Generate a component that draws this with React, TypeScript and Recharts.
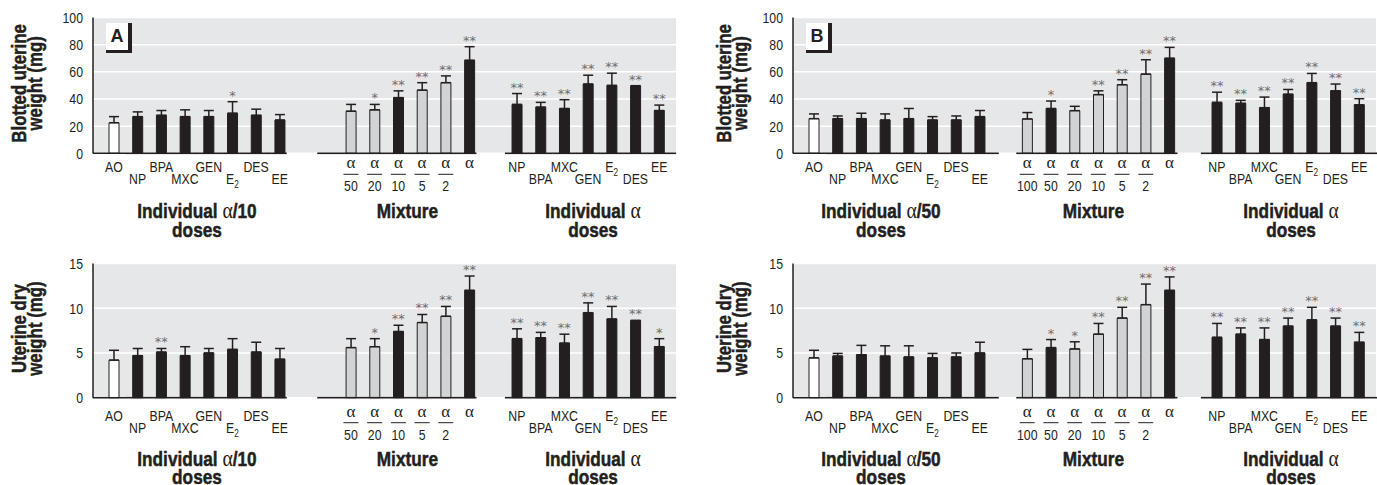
import React from 'react';
import { ComposedChart, Bar, XAxis, YAxis, CartesianGrid, ErrorBar, Cell, Line } from 'recharts';

const SANS = "'Liberation Sans', Arial, sans-serif";
const SERIF = "'Liberation Serif', 'DejaVu Serif', serif";
const INK = '#231f20';
const PLOT_BG = '#e6e7e8';
const FILLS: Record<string, string> = { w: '#ffffff', g: '#d1d3d4', b: '#231f20' };
const SQUEEZE = 0.82; // condensed look from Liberation Sans

// categories
const individualLabels = ['AO', 'NP', 'BPA', 'MXC', 'GEN', 'E2', 'DES', 'EE'];
const mixtureDenoms = ['100', '50', '20', '10', '5', '2', ''];
const alphaLabels = ['NP', 'BPA', 'MXC', 'GEN', 'E2', 'DES', 'EE'];

// bar fill codes (w = vehicle, g = grey, b = black)
const lowFill = ['w', 'b', 'b', 'b', 'b', 'b', 'b', 'b'];
const mixFillA = ['g', 'g', 'g', 'b', 'g', 'g', 'b'];
const mixFillB = ['g', 'b', 'g', 'g', 'g', 'g', 'b'];
const highFill = ['b', 'b', 'b', 'b', 'b', 'b', 'b'];

// A - blotted uterine weight (mg)
const aBlotLow = [22.5, 27, 28, 27, 27, 29.5, 28, 24.5];
const aBlotLowErr = [4.5, 3.5, 3.5, 5, 4.5, 8.5, 4.5, 4];
const aBlotLowSig = ['', '', '', '', '', '*', '', ''];
const aBlotMix = [null, 31, 32, 41, 46.5, 52, 68.5];
const aBlotMixErr = [0, 5, 4, 5, 5.5, 5, 10];
const aBlotMixSig = ['', '', '*', '**', '**', '**', '**'];
const aBlotHigh = [36, 34, 33, 51, 50, 49.5, 31.5];
const aBlotHighErr = [8, 3.5, 6.5, 6.5, 9, 0.3, 4];
const aBlotHighSig = ['**', '**', '**', '**', '**', '**', '**'];

// A - uterine dry weight (mg)
const aDryLow = [4.2, 4.7, 5.1, 4.7, 5.0, 5.4, 5.1, 4.3];
const aDryLowErr = [1.1, 0.8, 0.4, 1.0, 0.5, 1.2, 1.1, 1.2];
const aDryLowSig = ['', '', '**', '', '', '', '', ''];
const aDryMix = [null, 5.6, 5.7, 7.4, 8.4, 9.1, 12.0];
const aDryMixErr = [0, 1.0, 0.9, 0.7, 0.9, 1.1, 1.6];
const aDryMixSig = ['', '', '*', '**', '**', '**', '**'];
const aDryHigh = [6.6, 6.7, 6.1, 9.5, 8.8, 8.6, 5.7];
const aDryHighErr = [1.1, 0.6, 1.0, 1.1, 1.4, 0.05, 0.9];
const aDryHighSig = ['**', '**', '**', '**', '**', '**', '*'];

// B - blotted uterine weight (mg)
const bBlotLow = [25.5, 25.5, 25.5, 24.5, 25.5, 24.5, 24.5, 27];
const bBlotLowErr = [3.5, 2, 4, 4.5, 7.5, 2.5, 3, 4.5];
const bBlotLowSig = ['', '', '', '', '', '', '', ''];
const bBlotMix = [25.3, 33, 31.4, 43.2, 50.5, 58.3, 70];
const bBlotMixErr = [4.7, 5.5, 3.2, 2.8, 3.7, 10.6, 8];
const bBlotMixSig = ['', '*', '', '**', '**', '**', '**'];
const bBlotHigh = [37.5, 36.8, 33.6, 43.5, 52, 46, 35.7];
const bBlotHighErr = [7.5, 2.2, 7.8, 3.5, 6.8, 5, 4.5];
const bBlotHighSig = ['**', '**', '**', '**', '**', '**', '**'];

// B - uterine dry weight (mg)
const bDryLow = [4.45, 4.65, 4.8, 4.65, 4.55, 4.45, 4.55, 5.0];
const bDryLowErr = [0.85, 0.3, 1.05, 1.15, 1.25, 0.5, 0.45, 1.2];
const bDryLowSig = ['', '', '', '', '', '', '', ''];
const bDryMix = [4.35, 5.6, 5.45, 7.1, 8.9, 10.4, 12.0];
const bDryMixErr = [1.05, 0.9, 0.8, 1.2, 1.2, 2.3, 1.5];
const bDryMixSig = ['', '*', '*', '**', '**', '**', '**'];
const bDryHigh = [6.75, 7.1, 6.5, 8.0, 8.7, 8.0, 6.2];
const bDryHighErr = [1.55, 0.7, 1.3, 0.9, 1.4, 0.9, 1.1];
const bDryHighSig = ['**', '**', '**', '**', '**', '**', '**'];

const blotTicks = [0, 20, 40, 60, 80, 100];
const dryTicks = [0, 5, 10, 15];

type Row = {
  id: string;
  group: number;
  pos: number;
  size: number;
  label: string;
  value: number | null;
  err: number[] | null;
  top: number | null;
  fill: string;
  sig: string;
};

type Group = { labels: string[]; values: (number | null)[]; errs: number[]; sigs: string[]; fills: string[] };

function buildRows(groups: Group[]): Row[] {
  const rows: Row[] = [];
  groups.forEach((g, gi) => {
    if (gi > 0) {
      rows.push({ id: `gap${gi}`, group: -1, pos: 0, size: 0, label: '', value: null, err: null, top: null, fill: '', sig: '' });
    }
    g.labels.forEach((label, i) => {
      const v = g.values[i];
      const e = g.errs[i];
      rows.push({
        id: `g${gi}-${i}`,
        group: gi,
        pos: i,
        size: g.labels.length,
        label,
        value: v,
        err: v == null ? null : [0, e],
        top: v == null ? null : v + e,
        fill: FILLS[g.fills[i]],
        sig: g.sigs[i],
      });
    });
  });
  return rows;
}

type Cfg = {
  shift: number;
  titleDy: number;
  dosesDy: number;
  dose: string;
  ends: number[]; // [g0 left, g0 right, g1 left, g1 right, g2 left, g2 right]
  titleDx: number[];
};

// condensed text: Liberation Sans squeezed horizontally, heavier when bold
function NText(props: { x: number; y: number; size: number; bold?: boolean; anchor?: string; rotate?: boolean; children: React.ReactNode }) {
  const { x, y, size, bold, anchor = 'middle', rotate, children } = props;
  return (
    <text
      transform={`translate(${x},${y})${rotate ? ' rotate(-90)' : ''} scale(${SQUEEZE},1)`}
      textAnchor={anchor as any}
      fontFamily={SANS}
      fontSize={size}
      fontWeight={bold ? 'bold' : 'normal'}
      fill={INK}
      stroke={bold ? INK : 'none'}
      strokeWidth={bold ? 0.5 : 0}
    >
      {children}
    </text>
  );
}

function makeTick(rows: Row[], cfg: Cfg) {
  return (props: any) => {
    const { x, y, payload } = props;
    const row = rows.find((r) => r.id === payload.value);
    if (!row || row.group < 0) return <g />;
    let left = -12;
    let right = 12;
    if (row.pos === 0) left = cfg.ends[row.group * 2];
    if (row.pos === row.size - 1) right = cfg.ends[row.group * 2 + 1];
    const s = cfg.shift;
    const parts: React.ReactNode[] = [];
    parts.push(<line key="base" x1={x + left} x2={x + right} y1={y} y2={y} stroke={INK} strokeWidth={1.6} />);

    if (row.group === 1) {
      if (row.value != null) {
        parts.push(
          <text key="a" x={x} y={y + 15 + s} textAnchor="middle" fontFamily={SERIF} fontSize={17} fill={INK}>α</text>
        );
        if (row.label) {
          parts.push(<line key="fr" x1={x - 7.5} x2={x + 7.5} y1={y + 21 + s} y2={y + 21 + s} stroke={INK} strokeWidth={1} />);
          parts.push(<NText key="d" x={x} y={y + 38 + s} size={15}>{row.label}</NText>);
        }
      }
      if (row.pos === 3) {
        parts.push(<NText key="t" x={x + cfg.titleDx[1]} y={y + cfg.titleDy} size={21} bold>Mixture</NText>);
      }
    } else {
      const ly = y + (row.pos % 2 === 0 ? 19 : 31) + s;
      if (row.label === 'E2') {
        parts.push(
          <NText key="l" x={x} y={ly} size={15}>
            E<tspan fontSize={10} dy={4}>2</tspan>
          </NText>
        );
      } else {
        parts.push(<NText key="l" x={x} y={ly} size={15}>{row.label}</NText>);
      }
      if (row.pos === 3) {
        const tx = x + cfg.titleDx[row.group];
        parts.push(
          <NText key="t" x={tx} y={y + cfg.titleDy} size={21} bold>
            {'Individual '}
            <tspan fontFamily={SERIF} fontWeight="normal" fontSize={24} strokeWidth={0}>α</tspan>
            {row.group === 0 ? cfg.dose : ''}
          </NText>
        );
        parts.push(<NText key="ds" x={tx} y={y + cfg.dosesDy} size={21} bold>doses</NText>);
      }
    }
    return <g>{parts}</g>;
  };
}

const yTick = (props: any) => (
  <NText x={props.x} y={props.y + 5.5} size={15} anchor="end">{props.payload.value}</NText>
);

const renderStar = (p: any) => {
  const { cx, cy, payload, index } = p;
  if (!payload || !payload.sig || cy == null || isNaN(cy)) return <g key={`s${index}`} />;
  return (
    <text key={`s${index}`} x={cx} y={cy - 2} textAnchor="middle" fontFamily="'DejaVu Sans', sans-serif" fontSize={13} fill="#6d6e71">
      {payload.sig}
    </text>
  );
};

function yLabel(lines: string[], dx: number) {
  return (props: any) => {
    const vb = props.viewBox || {};
    const cy = (vb.y || 0) + (vb.height || 0) / 2 - 2;
    return (
      <g>
        <NText x={26 + dx} y={cy} size={20.5} bold rotate>{lines[0]}</NText>
        <NText x={42 + dx} y={cy} size={20.5} bold rotate>{lines[1]}</NText>
      </g>
    );
  };
}

type PanelProps = {
  left: number;
  top: number;
  width: number;
  height: number;
  marginTop: number;
  marginRight: number;
  axisHeight: number;
  rows: Row[];
  ticks: number[];
  labelLines: string[];
  labelDx: number;
  cfg: Cfg;
};

function Panel(p: PanelProps) {
  const yMax = p.ticks[p.ticks.length - 1];
  return (
    <div style={{ position: 'absolute', left: p.left, top: p.top }}>
      <ComposedChart
        width={p.width}
        height={p.height}
        data={p.rows}
        margin={{ top: p.marginTop, right: p.marginRight, bottom: 0, left: 0 }}
      >
        <CartesianGrid vertical={false} stroke="#ffffff" strokeWidth={1.5} fill={PLOT_BG} fillOpacity={1} />
        <XAxis
          dataKey="id"
          interval={0}
          axisLine={false}
          tickLine={false}
          tickSize={0}
          tickMargin={0}
          height={p.axisHeight}
          padding={{ left: 9, right: 5 }}
          tick={makeTick(p.rows, p.cfg)}
        />
        <YAxis
          domain={[0, yMax]}
          ticks={p.ticks}
          width={93}
          axisLine={{ stroke: INK, strokeWidth: 1.5 }}
          tickLine={false}
          tickSize={0}
          tickMargin={10}
          tick={yTick}
          label={yLabel(p.labelLines, p.labelDx)}
        />
        <Bar dataKey="value" barSize={10} stroke={INK} strokeWidth={1} isAnimationActive={false}>
          {p.rows.map((r) => (
            <Cell key={r.id} fill={r.fill || INK} />
          ))}
          <ErrorBar dataKey="err" width={5} stroke={INK} strokeWidth={1.5} direction="y" />
        </Bar>
        <Line dataKey="top" stroke="none" dot={renderStar} activeDot={false} isAnimationActive={false} legendType="none" />
      </ComposedChart>
    </div>
  );
}

function LetterBox({ left, letter }: { left: number; letter: string }) {
  return (
    <div
      style={{
        position: 'absolute',
        left,
        top: 23,
        width: 22,
        height: 27,
        background: '#ffffff',
        borderRight: `4px solid ${INK}`,
        borderBottom: `3px solid ${INK}`,
        fontFamily: SANS,
        fontWeight: 'bold',
        fontSize: 18,
        lineHeight: '27px',
        textAlign: 'center',
        color: INK,
      }}
    >
      {letter}
    </div>
  );
}

const aBlotRows = buildRows([
  { labels: individualLabels, values: aBlotLow, errs: aBlotLowErr, sigs: aBlotLowSig, fills: lowFill },
  { labels: mixtureDenoms, values: aBlotMix, errs: aBlotMixErr, sigs: aBlotMixSig, fills: mixFillA },
  { labels: alphaLabels, values: aBlotHigh, errs: aBlotHighErr, sigs: aBlotHighSig, fills: highFill },
]);
const aDryRows = buildRows([
  { labels: individualLabels, values: aDryLow, errs: aDryLowErr, sigs: aDryLowSig, fills: lowFill },
  { labels: mixtureDenoms, values: aDryMix, errs: aDryMixErr, sigs: aDryMixSig, fills: mixFillA },
  { labels: alphaLabels, values: aDryHigh, errs: aDryHighErr, sigs: aDryHighSig, fills: highFill },
]);
const bBlotRows = buildRows([
  { labels: individualLabels, values: bBlotLow, errs: bBlotLowErr, sigs: bBlotLowSig, fills: lowFill },
  { labels: mixtureDenoms, values: bBlotMix, errs: bBlotMixErr, sigs: bBlotMixSig, fills: mixFillB },
  { labels: alphaLabels, values: bBlotHigh, errs: bBlotHighErr, sigs: bBlotHighSig, fills: highFill },
]);
const bDryRows = buildRows([
  { labels: individualLabels, values: bDryLow, errs: bDryLowErr, sigs: bDryLowSig, fills: lowFill },
  { labels: mixtureDenoms, values: bDryMix, errs: bDryMixErr, sigs: bDryMixSig, fills: mixFillB },
  { labels: alphaLabels, values: bDryHigh, errs: bDryHighErr, sigs: bDryHighSig, fills: highFill },
]);

const cfgA = { ends: [-21, 7, -10, 7, -12, 17], titleDx: [12, 9, 5], dose: '/10' };
const cfgB = { ends: [-21, 19, -11, 8, -16, 18], titleDx: [-4, -5, 3], dose: '/50' };
const topRow = { shift: 0, titleDy: 65, dosesDy: 84 };
const bottomRow = { shift: 4, titleDy: 68, dosesDy: 86 };

export default function App() {
  return (
    <div style={{ position: 'absolute', left: 0, top: 0, width: 1377, height: 485, background: '#ffffff', overflow: 'hidden' }}>
      <Panel left={0} top={0} width={690} height={246} marginTop={17.5} marginRight={14} axisHeight={92.7}
        rows={aBlotRows} ticks={blotTicks} labelLines={['Blotted uterine', 'weight (mg)']} labelDx={0} cfg={{ ...cfgA, ...topRow }} />
      <Panel left={0} top={240} width={690} height={252} marginTop={23.5} marginRight={14} axisHeight={94.3}
        rows={aDryRows} ticks={dryTicks} labelLines={['Uterine dry', 'weight (mg)']} labelDx={0} cfg={{ ...cfgA, ...bottomRow }} />
      <Panel left={700} top={0} width={677} height={246} marginTop={17.5} marginRight={1} axisHeight={92.7}
        rows={bBlotRows} ticks={blotTicks} labelLines={['Blotted uterine', 'weight (mg)']} labelDx={5} cfg={{ ...cfgB, ...topRow }} />
      <Panel left={700} top={240} width={677} height={252} marginTop={23.5} marginRight={1} axisHeight={94.3}
        rows={bDryRows} ticks={dryTicks} labelLines={['Uterine dry', 'weight (mg)']} labelDx={5} cfg={{ ...cfgB, ...bottomRow }} />
      <LetterBox left={106} letter="A" />
      <LetterBox left={806} letter="B" />
    </div>
  );
}
